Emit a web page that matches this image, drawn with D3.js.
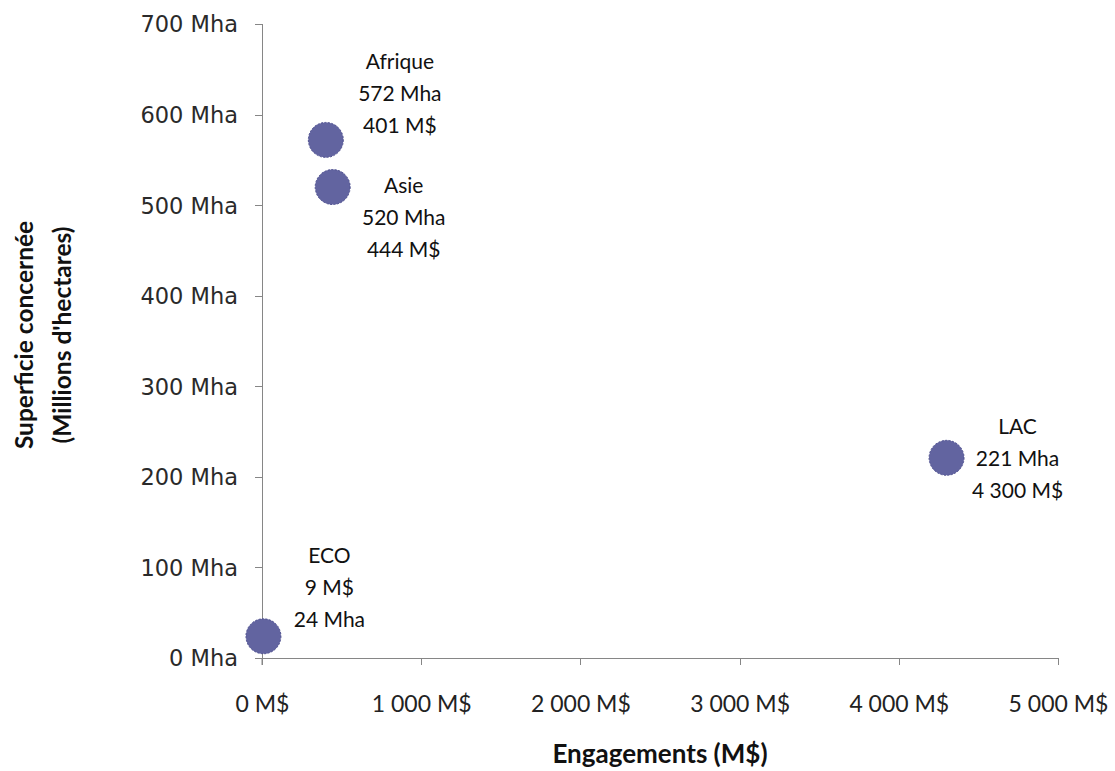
<!DOCTYPE html>
<html>
<head>
<meta charset="utf-8">
<script src="https://cdn.jsdelivr.net/npm/d3@7"></script>
<style>
  html, body { margin: 0; padding: 0; background: #ffffff; }
  svg { display: block; }
</style>
</head>
<body>
<svg id="chart" width="1115" height="771"></svg>
<script>
// Regions, commitments (M$) and area concerned (Mha)
const regions = ["Afrique", "Asie", "LAC", "ECO"];
const engagements = [401, 444, 4300, 9];
const superficie = [572, 520, 221, 24];
// ECO lists the commitment before the area in its label
const engagementFirst = [false, false, false, true];

const xTicks = [0, 1000, 2000, 3000, 4000, 5000];
const yTicks = [0, 100, 200, 300, 400, 500, 600, 700];

const xTitle = "Engagements (M$)";
const yTitleLines = ["Superficie concernée", "(Millions d'hectares)"];

// Label placement relative to each marker (middle line centre)
const labelDx = [74, 71, 71, 66];
const labelDy = [-46, 31, 1, -49];

const W = 1115, H = 771;
const margin = { left: 262, top: 24, right: 1115 - 1058, bottom: 771 - 658 };

const fr = d3.formatLocale({ decimal: ",", thousands: " ", grouping: [3], currency: ["", ""] });
const fmt = fr.format(",d");

const svg = d3.select("#chart");
const x = d3.scaleLinear().domain([0, 5000]).range([margin.left, W - margin.right]);
const y = d3.scaleLinear().domain([0, 700]).range([H - margin.bottom, margin.top]);

const axisColor = "#868686";

// X axis
const gx = svg.append("g")
  .attr("transform", `translate(0,${y(0)})`)
  .call(d3.axisBottom(x).tickValues(xTicks).tickSize(7).tickPadding(0).tickFormat(d => fmt(d) + " M$"));
gx.select(".domain").attr("stroke", axisColor).attr("d", `M${x(0)},0H${x(5000)}`);
gx.selectAll(".tick line").attr("stroke", axisColor);
gx.selectAll(".tick text")
  .attr("fill", "#222")
  .attr("y", 46)
  .attr("dy", "0.35em")
  .style("font-family", "Lato, 'Open Sans', sans-serif")
  .style("font-size", "23px");

// Y axis
const gy = svg.append("g")
  .attr("transform", `translate(${x(0)},0)`)
  .call(d3.axisLeft(y).tickValues(yTicks).tickSize(7).tickPadding(0).tickFormat(d => d + " Mha"));
gy.select(".domain").attr("stroke", axisColor).attr("d", `M0,${y(700)}V${y(0)}`);
gy.selectAll(".tick line").attr("stroke", axisColor);
gy.selectAll(".tick text")
  .attr("fill", "#2a2a2a")
  .attr("x", -24)
  .attr("dy", "0.35em")
  .style("font-family", "'DejaVu Sans', Verdana, sans-serif")
  .style("font-size", "22.5px");
// small overhang of the y axis below the x axis (0 M$ tick)
svg.append("line")
  .attr("x1", x(0)).attr("x2", x(0))
  .attr("y1", y(0)).attr("y2", y(0) + 7)
  .attr("stroke", axisColor);

svg.selectAll(".domain, .tick line").attr("shape-rendering", "crispEdges");

// Axis titles
svg.append("text")
  .attr("x", (x(0) + x(5000)) / 2)
  .attr("y", 763)
  .attr("text-anchor", "middle")
  .attr("fill", "#111")
  .style("font-family", "Lato, sans-serif")
  .style("font-weight", "bold")
  .style("font-size", "26px")
  .text(xTitle);

const yt = svg.append("text")
  .attr("transform", `translate(0,${(y(0) + y(700)) / 2 - 6}) rotate(-90)`)
  .attr("text-anchor", "middle")
  .attr("fill", "#111")
  .style("font-family", "Lato, sans-serif")
  .style("font-weight", "bold")
  .style("font-size", "24.5px");
yt.selectAll("tspan").data(yTitleLines).join("tspan")
  .attr("x", 0)
  .attr("y", (d, i) => 33 + i * 38)
  .text(d => d);

// Points
const pts = regions.map((r, i) => ({
  name: r, eng: engagements[i], sup: superficie[i], engFirst: engagementFirst[i],
  dx: labelDx[i], dy: labelDy[i]
}));

svg.append("g").selectAll("circle").data(pts).join("circle")
  .attr("cx", d => x(d.eng))
  .attr("cy", d => y(d.sup))
  .attr("r", 17.5)
  .attr("fill", "#6264a0")
  .attr("stroke", "#4f5190")
  .attr("stroke-width", 1)
  .attr("stroke-dasharray", "2,1.5");

// Data labels (three centred lines)
const lg = svg.append("g").selectAll("text").data(pts).join("text")
  .attr("text-anchor", "middle")
  .attr("fill", "#111")
  .style("font-family", "Lato, sans-serif")
  .style("font-size", "21px");
lg.each(function(d) {
  const cx = x(d.eng) + d.dx, cy = y(d.sup) + d.dy;
  const mha = d.sup + " Mha", md = fmt(d.eng) + " M$";
  const lines = d.engFirst ? [d.name, md, mha] : [d.name, mha, md];
  d3.select(this).selectAll("tspan").data(lines).join("tspan")
    .attr("x", cx)
    .attr("y", (l, i) => cy + (i - 1) * 32)
    .attr("dy", "0.35em")
    .text(l => l);
});
</script>
</body>
</html>
